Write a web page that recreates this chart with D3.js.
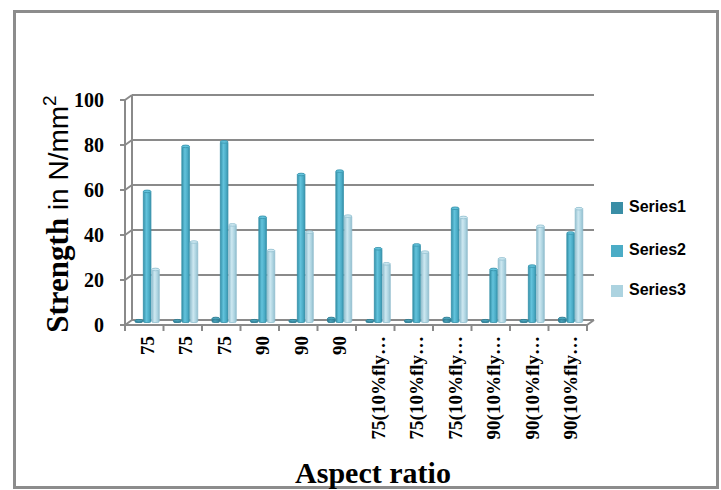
<!DOCTYPE html>
<html><head><meta charset="utf-8">
<script src="https://cdn.jsdelivr.net/npm/d3@7"></script>
<style>html,body{margin:0;padding:0;background:#fff;overflow:hidden}</style>
</head><body>
<script>
const categories = ["75","75","75","90","90","90","75(10%fly…","75(10%fly…","75(10%fly…","90(10%fly…","90(10%fly…","90(10%fly…"];
const seriesNames = ["Series1","Series2","Series3"];
const series1 = [1,1,2,1,1,2,1,1,2,1,1,2];
const series2 = [58.5,78.5,80.5,47,66,67.5,33,34.7,51,23.8,25.3,40];
const series3 = [23.8,36,43.6,32.2,40.4,47.5,26.3,31.5,46.9,28.5,43,50.8];
const yTicks = [0,20,40,60,80,100];

const W = 721, H = 490;
const svg = d3.select("body").append("svg").attr("width", W).attr("height", H);
const defs = svg.append("defs");

const colors = [
  {edge:"#2b7a90", mid:"#4aa2b9", base:"#3a8ea6"},
  {edge:"#3591a9", mid:"#63c3dc", base:"#4bacc6"},
  {edge:"#92bfcf", mid:"#cde8f1", base:"#acd3e0"}
];
colors.forEach((c,i)=>{
  const g = defs.append("linearGradient").attr("id","g"+i).attr("x1","0").attr("x2","1").attr("y1","0").attr("y2","0");
  g.append("stop").attr("offset","0%").attr("stop-color",c.edge);
  g.append("stop").attr("offset","40%").attr("stop-color",c.mid);
  g.append("stop").attr("offset","75%").attr("stop-color",c.base);
  g.append("stop").attr("offset","100%").attr("stop-color",c.edge);
});

const axisX = 125, dx = 7, dy = -5;
const yFront = d3.scaleLinear().domain([0,100]).range([325,100]);
const yBack = v => yFront(v) + dy;
const yMid = v => yFront(v) + dy/2;
const x = d3.scaleBand().domain(d3.range(categories.length)).range([axisX, 587]).paddingInner(0).paddingOuter(0);
const xs = d3.scaleBand().domain(d3.range(3)).range([10, 35]);

const grid = "#8a8a8a";
const g = svg.append("g");

g.append("line").attr("x1",axisX+dx).attr("x2",axisX+dx).attr("y1",yBack(0)).attr("y2",yBack(100)).attr("stroke",grid).attr("stroke-width",2);
yTicks.forEach(v=>{
  g.append("line").attr("x1",axisX+dx).attr("x2",587+dx).attr("y1",yBack(v)).attr("y2",yBack(v)).attr("stroke",grid).attr("stroke-width",2);
  g.append("line").attr("x1",axisX).attr("x2",axisX+dx).attr("y1",yFront(v)).attr("y2",yBack(v)).attr("stroke",grid).attr("stroke-width",2);
});
g.append("path").attr("d",`M${axisX},${yFront(0)}L587,${yFront(0)}L${587+dx},${yBack(0)}`).attr("fill","none").attr("stroke",grid).attr("stroke-width",2);
g.append("line").attr("x1",axisX).attr("x2",axisX).attr("y1",yFront(0)).attr("y2",yFront(100)).attr("stroke",grid).attr("stroke-width",2);
yTicks.forEach(v=>{
  g.append("line").attr("x1",axisX-5).attr("x2",axisX).attr("y1",yFront(v)).attr("y2",yFront(v)).attr("stroke",grid).attr("stroke-width",2);
  g.append("text").attr("x",104).attr("y",yFront(v)+2).attr("text-anchor","end").attr("dominant-baseline","middle")
   .attr("font-family","Liberation Serif").attr("font-weight","bold").attr("font-size",20).text(v);
});
d3.range(categories.length+1).forEach(i=>{
  const xx = axisX + i*x.bandwidth();
  g.append("line").attr("x1",xx).attr("x2",xx).attr("y1",yFront(0)).attr("y2",yFront(0)+6).attr("stroke",grid).attr("stroke-width",2);
});

const allSeries = [series1, series2, series3];
const bw = 7.6;
allSeries.forEach((vals,s)=>{
  vals.forEach((v,i)=>{
    const x0 = x(i) + xs(s);
    const top = yMid(v), base = yMid(0);
    g.append("rect").attr("x",x0).attr("y",top).attr("width",bw).attr("height",base-top)
      .attr("fill",`url(#g${s})`).attr("stroke",colors[s].edge).attr("stroke-width",0.8).attr("rx",1.5);
    g.append("ellipse").attr("cx",x0+bw/2).attr("cy",top+0.5).attr("rx",bw/2).attr("ry",1.3)
      .attr("fill",colors[s].mid).attr("stroke",colors[s].edge).attr("stroke-width",0.8);
  });
});

categories.forEach((c,i)=>{
  const cx = x(i) + x.bandwidth()/2 + 3;
  g.append("text").attr("transform",`translate(${cx+6.5},336) rotate(-90)`).attr("text-anchor","end")
   .attr("font-family","Liberation Serif").attr("font-weight","bold").attr("font-size",19).text(c);
});

const yt = svg.append("text").attr("transform","translate(68,214) rotate(-90)").attr("text-anchor","middle");
yt.append("tspan").attr("font-family","Liberation Serif").attr("font-weight","bold").attr("font-size",31).text("Strength");
yt.append("tspan").attr("font-family","Liberation Sans").attr("font-size",28).text(" in N/mm");
yt.append("tspan").attr("font-family","Liberation Sans").attr("font-size",19).attr("dy",-12).text("2");

svg.append("rect").attr("x",14.5).attr("y",11.5).attr("width",703).attr("height",476).attr("fill","none").attr("stroke","#8c8c8c").attr("stroke-width",3);

svg.append("text").attr("x",373).attr("y",483).attr("text-anchor","middle")
  .attr("font-family","Liberation Serif").attr("font-weight","bold").attr("font-size",30).text("Aspect ratio");

const legY = [208,251,291];
seriesNames.forEach((n,i)=>{
  svg.append("rect").attr("x",611).attr("y",legY[i]-6).attr("width",12).attr("height",12).attr("fill",colors[i].base);
  svg.append("text").attr("x",629).attr("y",legY[i]).attr("dominant-baseline","middle")
   .attr("font-family","Liberation Sans").attr("font-weight","bold").attr("font-size",16).text(n);
});
</script>
</body></html>
